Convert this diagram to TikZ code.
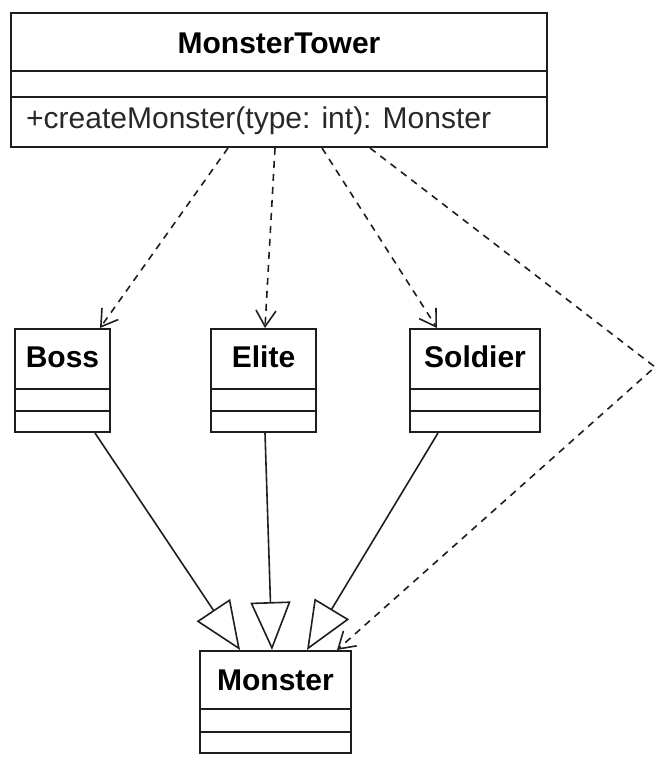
\documentclass[tikz,border=0pt]{standalone}
\usepackage{fontspec}
\setmainfont{Liberation Sans}
\usetikzlibrary{arrows.meta}
\definecolor{ink}{RGB}{30,30,30}
\definecolor{txt}{RGB}{40,40,40}
\tikzset{
  classbox/.style={draw=ink, line width=2pt, fill=white, rectangle, inner sep=0pt},
  divider/.style={draw=ink, line width=2pt},
  ttl/.style={font=\fontsize{30}{32}\selectfont\bfseries, text=black, inner sep=0pt},
  meth/.style={font=\fontsize{30}{32}\selectfont, text=txt, inner sep=0pt, anchor=west},
  dep/.style={draw=ink, line width=1.6pt, dash pattern=on 7pt off 6pt, -{Straight Barb[length=16pt,width=20pt,line width=1.6pt]}},
  inh/.style={draw=ink, line width=1.6pt, -{Triangle[open,length=48pt,width=40pt,fill=white,line width=1.6pt]}}
}
\begin{document}
\begin{tikzpicture}[x=1pt,y=-1pt]
\useasboundingbox (0,0) rectangle (663,771);
% MonsterTower
\node[classbox, minimum width=536pt, minimum height=134pt] (tower) at (279,80) {};
\node[ttl] (towert) at (279,43) {MonsterTower};
\draw[divider] (11,71) -- (547,71);
\draw[divider] (11,97) -- (547,97);
\node[meth] (towerm) at (26,121) {+createMonster(type: int): Monster};
% Boss
\node[classbox, minimum width=95pt, minimum height=103pt] (boss) at (62.5,380.5) {};
\node[ttl] (bosst) at (62.5,357) {Boss};
\draw[divider] (15,389) -- (110,389);
\draw[divider] (15,411) -- (110,411);
% Elite
\node[classbox, minimum width=105pt, minimum height=103pt] (elite) at (263.5,380.5) {};
\node[ttl] (elitet) at (263.5,357) {Elite};
\draw[divider] (211,389) -- (316,389);
\draw[divider] (211,411) -- (316,411);
% Soldier
\node[classbox, minimum width=130pt, minimum height=103pt] (soldier) at (475,380.5) {};
\node[ttl] (soldiert) at (475,357) {Soldier};
\draw[divider] (410,389) -- (540,389);
\draw[divider] (410,411) -- (540,411);
% Monster
\node[classbox, minimum width=151pt, minimum height=102pt] (monster) at (275.5,702) {};
\node[ttl] (monstert) at (275.5,680) {Monster};
\draw[divider] (200,709) -- (351,709);
\draw[divider] (200,732) -- (351,732);
% dependencies
\coordinate (bend) at (655,367);
\draw[dep] ([xshift=-51pt]tower.south) -- ([xshift=37.5pt]boss.north);
\draw[dep] ([xshift=-4pt]tower.south) -- ([xshift=1.5pt]elite.north);
\draw[dep] ([xshift=43pt]tower.south) -- ([xshift=-38pt]soldier.north);
\draw[dep] ([xshift=91pt]tower.south) -- (bend) -- ([xshift=61.5pt]monster.north);
% inheritance
\draw[inh] ([xshift=32.5pt]boss.south) -- ([xshift=-35.5pt]monster.north);
\draw[inh] ([xshift=1.5pt]elite.south) -- ([xshift=-3.5pt]monster.north);
\draw[inh] ([xshift=-37pt]soldier.south) -- ([xshift=31.5pt]monster.north);
\end{tikzpicture}
\end{document}
